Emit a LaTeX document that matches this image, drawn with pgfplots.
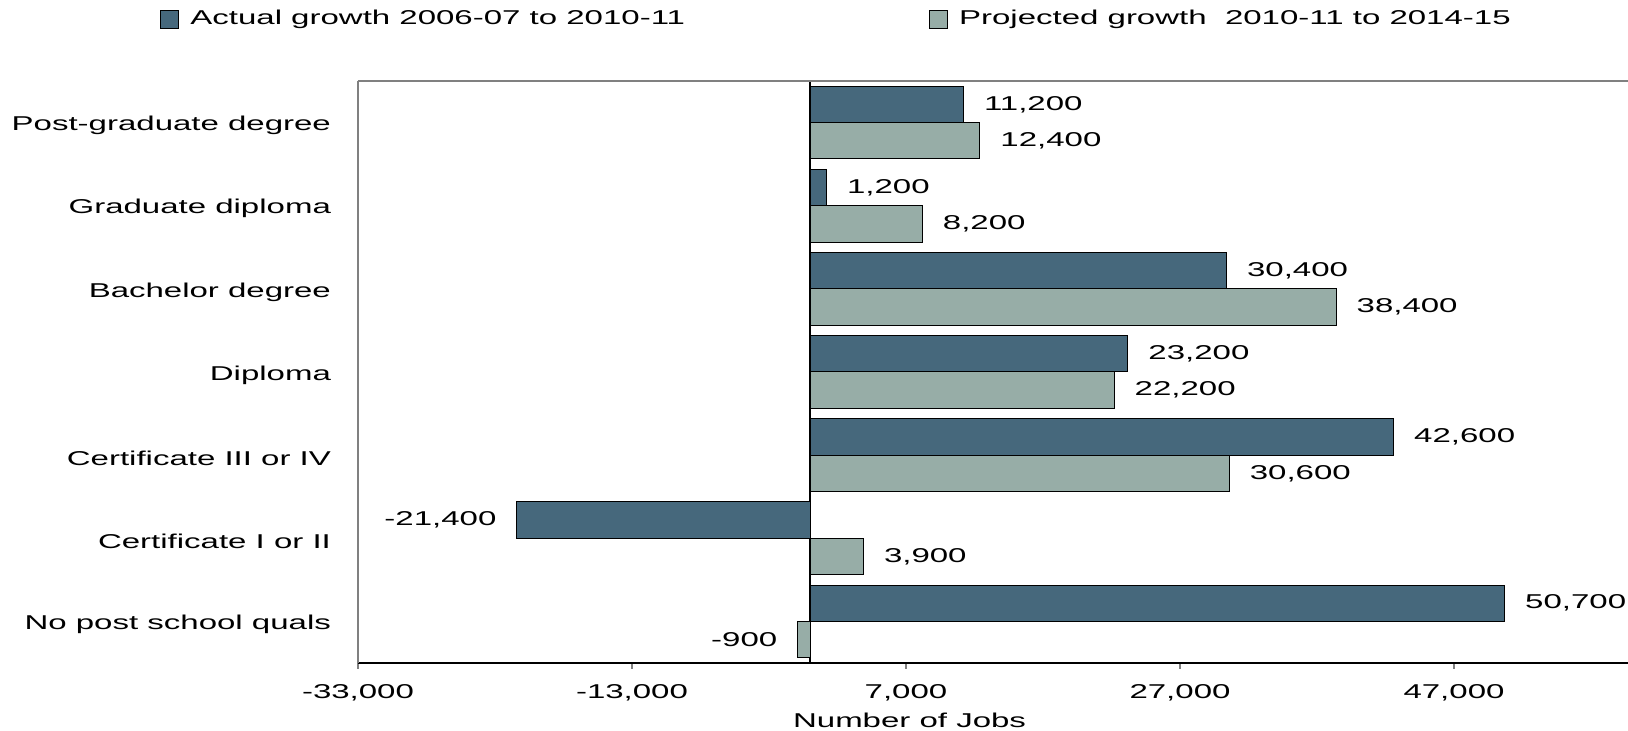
\documentclass[border=0pt]{standalone}
\usepackage{fontspec}
\setmainfont{Liberation Sans}[FakeStretch=1.65]
\usepackage{pgfplots}
\pgfplotsset{compat=1.18}

\definecolor{actual}{RGB}{70,104,124}
\definecolor{projected}{RGB}{151,173,167}
\definecolor{framegray}{RGB}{128,128,128}

\begin{document}
\begin{tikzpicture}
\begin{axis}[
    scale only axis,
    width=635pt, height=291pt,
    xbar, bar width=0.437,
    xmin=-33000, xmax=59700,
    ymin=-0.5, ymax=6.5,
    axis x line*=bottom, axis y line*=left,
    axis line style={-},
    x axis line style={black, line width=0.6pt},
    y axis line style={framegray, line width=0.6pt},
    xtick={-33000,-13000,7000,27000,47000},
    scaled x ticks=false,
    /pgf/number format/1000 sep={,},
    /pgf/number format/assume math mode=true,
    tick align=outside,
    major tick length=3pt,
    xtick style={framegray, line width=0.6pt},
    xticklabel style={yshift=-4pt},
    ytick={0,...,6},
    yticklabels={No post school quals, Certificate I or II, Certificate III or IV,
        Diploma, Bachelor degree, Graduate diploma, Post-graduate degree},
    ytick style={draw=none},
    yticklabel style={xshift=-7pt, yshift=-1.5pt},
    extra x ticks={0},
    extra x tick labels={},
    extra x tick style={grid=major, major tick length=0pt,
        major grid style={black, line width=0.7pt}},
    xlabel={Number of Jobs},
    xlabel style={at={(axis description cs:0.4343,0)}, anchor=center, yshift=-28.5pt},
    point meta=x,
    nodes near coords,
    nodes near coords align=horizontal,
    every node near coord/.append style={black, inner xsep=10pt},
    legend columns=2,
    legend style={at={(-0.1559,1.1065)}, anchor=west, draw=none, fill=none,
        inner sep=0pt,
        /tikz/every odd column/.append style={column sep=3.5pt},
        /tikz/every even column/.append style={column sep=120pt}},
    legend image code/.code={\draw[#1, draw=black] (0pt,-4.5pt) rectangle (9pt,4.5pt);},
]
% Actual growth 2006-07 to 2010-11
\addplot[fill=actual, draw=black, line width=0.5pt, bar shift=0.2185]
    coordinates {(50700,0) (-21400,1) (42600,2) (23200,3) (30400,4) (1200,5) (11200,6)};
% Projected growth 2010-11 to 2014-15
\addplot[fill=projected, draw=black, line width=0.5pt, bar shift=-0.2185]
    coordinates {(-900,0) (3900,1) (30600,2) (22200,3) (38400,4) (8200,5) (12400,6)};
\legend{Actual growth 2006-07 to 2010-11, Projected growth\ \ 2010-11 to 2014-15}
\end{axis}
\draw[framegray, line width=0.6pt] (0pt,291pt) -- (635pt,291pt);
\pgfresetboundingbox
\path[use as bounding box] (-179pt,-34pt) rectangle (635pt,331.5pt);
\end{tikzpicture}
\end{document}
